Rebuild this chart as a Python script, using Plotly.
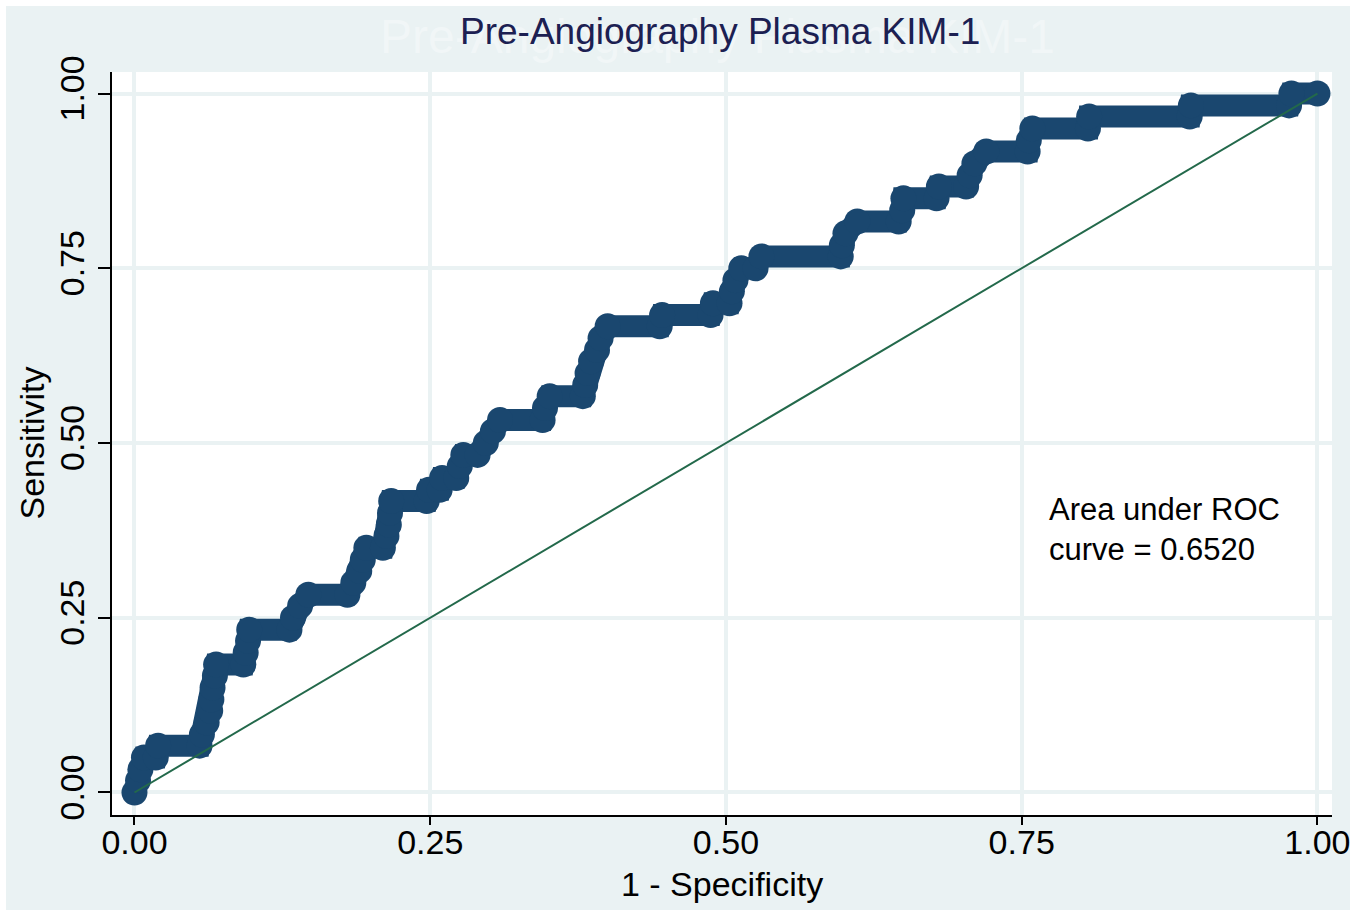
import plotly.graph_objects as go

# ---- data ----
fpr = [0.000, 0.003, 0.005, 0.008, 0.018, 0.020, 0.055, 0.057, 0.061, 0.064,
       0.065, 0.066, 0.068, 0.069, 0.092, 0.094, 0.096, 0.097, 0.131, 0.134,
       0.140, 0.147, 0.180, 0.185, 0.190, 0.193, 0.196, 0.210, 0.213, 0.215,
       0.216, 0.217, 0.247, 0.249, 0.258, 0.260, 0.272, 0.275, 0.278, 0.290,
       0.297, 0.303, 0.309, 0.345, 0.347, 0.351, 0.379, 0.381, 0.383, 0.386,
       0.391, 0.394, 0.400, 0.444, 0.446, 0.487, 0.489, 0.503, 0.505, 0.508,
       0.513, 0.525, 0.530, 0.597, 0.598, 0.601, 0.611, 0.646, 0.649, 0.650,
       0.678, 0.680, 0.703, 0.706, 0.710, 0.720, 0.755, 0.756, 0.759, 0.806,
       0.807, 0.892, 0.893, 0.976, 0.978, 1.000]
sensitivity = [0.000, 0.017, 0.033, 0.050, 0.050, 0.067, 0.067, 0.083, 0.100, 0.117,
               0.133, 0.150, 0.167, 0.183, 0.183, 0.200, 0.217, 0.233, 0.233, 0.250,
               0.267, 0.283, 0.283, 0.300, 0.317, 0.333, 0.350, 0.350, 0.367, 0.383,
               0.400, 0.417, 0.417, 0.433, 0.433, 0.450, 0.450, 0.467, 0.483, 0.483,
               0.500, 0.517, 0.533, 0.533, 0.550, 0.567, 0.567, 0.583, 0.600, 0.617,
               0.633, 0.650, 0.667, 0.667, 0.683, 0.683, 0.700, 0.700, 0.717, 0.733,
               0.750, 0.750, 0.767, 0.767, 0.783, 0.800, 0.817, 0.817, 0.833, 0.850,
               0.850, 0.867, 0.867, 0.883, 0.900, 0.917, 0.917, 0.933, 0.950, 0.950,
               0.967, 0.967, 0.983, 0.983, 1.000, 1.000]
ref_x = [0, 1]
ref_y = [0, 1]
tick_vals = [0, 0.25, 0.5, 0.75, 1.0]
tick_text = ["0.00", "0.25", "0.50", "0.75", "1.00"]
title_text = "Pre-Angiography Plasma KIM-1"
auc_text = "Area under ROC<br>curve = 0.6520"

NAVY = "#1A476F"
GREEN = "#23694B"
BG = "#EAF2F3"
FONT = "Liberation Sans, Arial, sans-serif"

fig = go.Figure()
fig.add_trace(go.Scatter(
    x=fpr, y=sensitivity, mode="lines+markers",
    line=dict(color=NAVY, width=22),
    marker=dict(color=NAVY, size=26, line=dict(width=0)),
    showlegend=False, hoverinfo="skip"))
fig.add_trace(go.Scatter(
    x=ref_x, y=ref_y, mode="lines",
    line=dict(color=GREEN, width=2),
    showlegend=False, hoverinfo="skip"))

axis_common = dict(
    tickvals=tick_vals, ticktext=tick_text,
    showgrid=True, gridcolor=BG, gridwidth=4,
    zeroline=False, showline=True, linecolor="black", linewidth=2,
    ticks="outside", tickcolor="black", tickwidth=2,
    tickfont=dict(family=FONT, size=34, color="black"),
    fixedrange=True,
)
fig.update_xaxes(range=[-0.019, 1.0123], ticklen=8, ticklabelstandoff=-12, **axis_common)
fig.update_yaxes(range=[-0.0322, 1.0308], ticklen=12, tickangle=-90, **axis_common)

annotations = [
    # faint ghost title behind the real one
    dict(text=title_text, xref="paper", yref="paper",
         x=(717 - 112) / 1220, y=(815 - 36) / 743, xanchor="center", yanchor="middle",
         showarrow=False, font=dict(family=FONT, size=48, color="rgba(255,255,255,0.35)")),
    dict(text=title_text, xref="paper", yref="paper",
         x=(720 - 112) / 1220, y=(815 - 32) / 743, xanchor="center", yanchor="middle",
         showarrow=False, font=dict(family=FONT, size=37, color="#1C2052")),
    dict(text="1 - Specificity", xref="paper", yref="paper",
         x=0.5, y=(815 - 884) / 743, xanchor="center", yanchor="middle",
         showarrow=False, font=dict(family=FONT, size=34, color="black")),
    dict(text="Sensitivity", xref="paper", yref="paper",
         x=(31 - 112) / 1220, y=0.5, xanchor="center", yanchor="middle",
         textangle=-90, showarrow=False, font=dict(family=FONT, size=34, color="black")),
    dict(text=auc_text, xref="x", yref="y", x=0.771, y=0.376,
         xanchor="left", yanchor="middle", align="left",
         showarrow=False, font=dict(family=FONT, size=31, color="black")),
]

W = 1220.0
H = 743.0
shapes = [
    # white outer border strips (top, left, right)
    dict(type="rect", xref="paper", yref="paper", layer="above",
         x0=-112 / W, x1=(1363 - 112) / W, y0=(815 - 6) / H, y1=815 / H,
         fillcolor="white", line=dict(width=0)),
    dict(type="rect", xref="paper", yref="paper", layer="above",
         x0=-112 / W, x1=(6 - 112) / W, y0=-95 / H, y1=815 / H,
         fillcolor="white", line=dict(width=0)),
    dict(type="rect", xref="paper", yref="paper", layer="above",
         x0=(1350 - 112) / W, x1=(1363 - 112) / W, y0=-95 / H, y1=815 / H,
         fillcolor="white", line=dict(width=0)),
]

fig.update_layout(
    width=1363, height=910, autosize=False,
    margin=dict(l=112, r=31, t=72, b=95, pad=0),
    paper_bgcolor=BG, plot_bgcolor="white",
    annotations=annotations, shapes=shapes,
    font=dict(family=FONT),
)

fig.write_html("out.html")
